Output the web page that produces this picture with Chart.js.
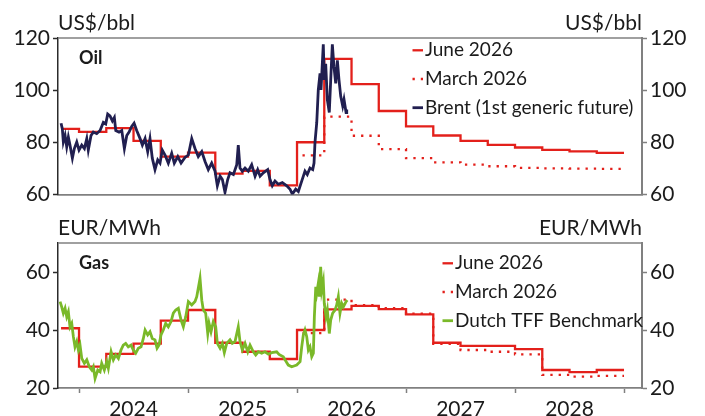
<!DOCTYPE html>
<html>
<head>
<meta charset="utf-8">
<script src="https://cdn.jsdelivr.net/npm/chart.js@4.4.1/dist/chart.umd.min.js"></script>
<style>
  html, body { margin: 0; padding: 0; background: #fff; }
  #wrap { position: relative; width: 705px; height: 416px; overflow: hidden; }
  canvas { position: absolute; left: 0; }
  #oil { top: 0; }
  #gas { top: 205px; }
</style>
</head>
<body>
<div id="wrap">
  <canvas id="oil" width="705" height="210"></canvas>
  <canvas id="gas" width="705" height="211"></canvas>
</div>
<script>
// ---- time frame (decimal years) ----
const xStart = 2023.807;
const xEnd = 2029.165;
const historyStart = 2023.835;
const marchStart = 2026.05;
const forecastEnd = 2029.0;
const years = [2024, 2025, 2026, 2027, 2028];

// ---- forecast quarters ----
const juneQuarters = ['2023Q4',
  '2024Q1', '2024Q2', '2024Q3', '2024Q4',
  '2025Q1', '2025Q2', '2025Q3', '2025Q4',
  '2026Q1', '2026Q2', '2026Q3', '2026Q4',
  '2027Q1', '2027Q2', '2027Q3', '2027Q4',
  '2028Q1', '2028Q2', '2028Q3', '2028Q4'];
const marchQuarters = [
  '2026Q1', '2026Q2', '2026Q3', '2026Q4',
  '2027Q1', '2027Q2', '2027Q3', '2027Q4',
  '2028Q1', '2028Q2', '2028Q3', '2028Q4'];

// ---- oil, US$/bbl ----
const oilTicks = [60, 80, 100, 120];
const oilJune = [85.1, 84.0, 85.4, 80.5, 74.5, 76.0, 68.0, 69.0, 63.5, 80.0, 112.0,
  102.3, 92.0, 86.1, 82.6, 80.5, 79.0, 78.0, 77.1, 76.5, 75.9];
const oilMarch = [75.0, 89.8, 82.5, 77.4, 73.9, 72.3, 71.4, 70.8, 70.2, 70.0, 69.9, 69.8];
const brent = [
  [2023.835, 87.3], [2023.847, 85.1], [2023.856, 80.1], [2023.872, 82.6], [2023.887, 78.3],
  [2023.902, 82.0], [2023.917, 78.9], [2023.939, 73.9], [2023.957, 77.6], [2023.979, 80.1],
  [2024.000, 77.0], [2024.025, 78.9], [2024.049, 77.6], [2024.071, 81.4], [2024.085, 77.0],
  [2024.110, 82.6], [2024.131, 83.9], [2024.162, 83.3], [2024.193, 84.5], [2024.223, 87.6],
  [2024.245, 87.0], [2024.263, 90.8], [2024.284, 90.1], [2024.306, 88.2], [2024.324, 89.5],
  [2024.337, 84.5], [2024.367, 83.9], [2024.392, 84.5], [2024.416, 77.6], [2024.438, 82.6],
  [2024.459, 83.9], [2024.483, 86.1], [2024.505, 87.3], [2024.529, 84.5], [2024.560, 81.4],
  [2024.581, 78.9], [2024.606, 81.4], [2024.630, 76.4], [2024.651, 81.4], [2024.672, 73.9],
  [2024.697, 69.5], [2024.722, 73.2], [2024.743, 72.0], [2024.764, 77.0], [2024.789, 75.1],
  [2024.819, 72.0], [2024.850, 75.8], [2024.874, 72.0], [2024.906, 74.5], [2024.936, 72.0],
  [2024.972, 74.2], [2025.003, 75.1], [2025.034, 81.4], [2025.064, 77.6], [2025.094, 74.5],
  [2025.126, 76.4], [2025.156, 72.6], [2025.186, 69.5], [2025.217, 72.0], [2025.248, 68.9],
  [2025.269, 63.3], [2025.294, 67.0], [2025.315, 65.7], [2025.339, 60.8], [2025.364, 65.7],
  [2025.385, 68.3], [2025.416, 67.6], [2025.447, 71.4], [2025.461, 78.9], [2025.477, 70.1],
  [2025.498, 68.9], [2025.523, 70.1], [2025.553, 68.9], [2025.584, 71.4], [2025.615, 67.0],
  [2025.639, 69.5], [2025.661, 67.0], [2025.691, 68.3], [2025.731, 69.5], [2025.752, 65.7],
  [2025.773, 63.3], [2025.798, 65.1], [2025.828, 63.9], [2025.865, 64.5], [2025.906, 63.3],
  [2025.936, 62.0], [2025.957, 60.1], [2025.988, 62.0], [2026.012, 61.1], [2026.043, 65.1],
  [2026.058, 67.0], [2026.073, 68.9], [2026.094, 67.6], [2026.119, 70.1], [2026.144, 69.5],
  [2026.156, 72.0], [2026.165, 80.1], [2026.181, 87.6], [2026.195, 100.1], [2026.211, 106.4],
  [2026.220, 100.1], [2026.232, 110.1], [2026.241, 117.6], [2026.250, 103.9], [2026.263, 110.1],
  [2026.278, 96.4], [2026.296, 91.4], [2026.309, 103.9], [2026.324, 117.6], [2026.339, 108.9],
  [2026.355, 102.6], [2026.370, 111.4], [2026.385, 103.9], [2026.401, 97.6], [2026.419, 93.9],
  [2026.431, 96.4], [2026.450, 91.4], [2026.456, 92.6]
];

// ---- gas, EUR/MWh ----
const gasTicks = [20, 40, 60];
const gasJune = [40.6, 27.4, 31.8, 35.3, 43.2, 46.9, 35.6, 32.5, 30.0, 40.0, 47.1,
  48.3, 47.2, 45.4, 35.6, 34.5, 34.5, 33.4, 26.2, 25.5, 26.2];
const gasMarch = [38.9, 50.5, 48.6, 47.5, 45.6, 35.2, 33.1, 32.5, 31.6, 24.5, 23.9, 24.2];
const tff = [
  [2023.826, 49.8], [2023.841, 48.0], [2023.856, 45.8], [2023.872, 47.5], [2023.887, 44.6],
  [2023.902, 46.3], [2023.917, 41.1], [2023.933, 42.3], [2023.948, 37.7], [2023.963, 34.2],
  [2023.979, 36.0], [2023.994, 33.1], [2024.009, 34.8], [2024.025, 30.2], [2024.049, 28.5],
  [2024.071, 29.7], [2024.094, 27.3], [2024.117, 26.2], [2024.131, 27.3], [2024.147, 23.3],
  [2024.172, 26.2], [2024.193, 25.6], [2024.208, 28.5], [2024.232, 26.2], [2024.254, 29.1],
  [2024.269, 26.8], [2024.294, 32.5], [2024.315, 29.7], [2024.337, 31.4], [2024.361, 30.2],
  [2024.385, 33.1], [2024.406, 34.8], [2024.428, 35.4], [2024.452, 34.2], [2024.477, 34.8],
  [2024.498, 33.1], [2024.520, 32.0], [2024.544, 33.7], [2024.569, 34.2], [2024.590, 37.1],
  [2024.606, 40.0], [2024.630, 38.3], [2024.651, 39.4], [2024.672, 37.1], [2024.697, 36.6],
  [2024.716, 33.7], [2024.734, 34.8], [2024.752, 38.3], [2024.773, 40.0], [2024.795, 42.3],
  [2024.819, 41.1], [2024.844, 42.9], [2024.865, 45.8], [2024.887, 46.9], [2024.911, 47.5],
  [2024.936, 43.4], [2024.957, 41.1], [2024.979, 44.6], [2025.003, 49.8], [2025.034, 48.6],
  [2025.064, 49.8], [2025.080, 51.5], [2025.110, 57.8], [2025.126, 50.3], [2025.140, 46.9],
  [2025.162, 45.8], [2025.181, 38.8], [2025.193, 42.3], [2025.211, 39.4], [2025.232, 42.9],
  [2025.254, 41.1], [2025.269, 35.4], [2025.294, 33.7], [2025.315, 35.4], [2025.333, 32.2],
  [2025.355, 35.4], [2025.385, 36.6], [2025.406, 35.4], [2025.431, 36.0], [2025.461, 41.1],
  [2025.477, 36.0], [2025.498, 33.1], [2025.523, 35.4], [2025.548, 32.5], [2025.569, 34.8],
  [2025.599, 32.5], [2025.621, 31.4], [2025.645, 32.5], [2025.676, 32.0], [2025.706, 32.5],
  [2025.737, 31.7], [2025.768, 32.2], [2025.813, 32.5], [2025.835, 31.6], [2025.874, 30.8],
  [2025.890, 29.7], [2025.920, 27.9], [2025.951, 27.3], [2025.972, 27.6], [2025.997, 27.9],
  [2026.028, 29.1], [2026.043, 34.2], [2026.058, 38.3], [2026.073, 40.0], [2026.089, 37.7],
  [2026.104, 33.1], [2026.119, 34.2], [2026.135, 30.8], [2026.150, 32.0], [2026.159, 44.6],
  [2026.172, 54.9], [2026.181, 52.7], [2026.195, 56.1], [2026.204, 51.5], [2026.217, 61.8],
  [2026.227, 53.8], [2026.241, 56.7], [2026.250, 49.2], [2026.266, 44.6], [2026.278, 46.9],
  [2026.296, 38.8], [2026.309, 43.4], [2026.327, 45.8], [2026.349, 46.9], [2026.364, 48.6],
  [2026.379, 51.5], [2026.394, 45.8], [2026.410, 49.2], [2026.425, 48.0], [2026.450, 49.8],
  [2026.461, 50.3]
];

// ---- styling ----
const FONT = 'Lato';
const INK = '#1b1b1b';
const RED = '#e3201b';
const NAVY = '#211f50';
const GREEN = '#7ab929';
const AXIS_GREY = '#808080';
const AXIS_DARK = '#2b2b2b';

Chart.defaults.font.family = FONT;
Chart.defaults.color = INK;

function quarterStart(q) {
  const [y, n] = q.split('Q').map(Number);
  return y + (n - 1) / 4;
}

// Quarterly step path: each value holds until the next quarter begins
function stepSeries(quarters, values, firstX) {
  const pts = quarters.map((q, i) => ({ x: Math.max(quarterStart(q), firstX), y: values[i] }));
  pts.push({ x: forecastEnd, y: values[values.length - 1] });
  return pts;
}

// Year boundaries get tick marks, mid-years carry the labels
const yearMarks = [];
years.forEach(y => { yearMarks.push({ value: y }, { value: y + 0.5 }); });
yearMarks.push({ value: years[years.length - 1] + 1 });

// Frame top edge, unit captions, panel name and the in-plot legend
const panelDecor = {
  id: 'panelDecor',
  afterDraw(chart, args, opts) {
    const { ctx, chartArea: a } = chart;
    ctx.save();
    ctx.strokeStyle = AXIS_GREY;
    ctx.lineWidth = 1.5;
    ctx.beginPath();
    ctx.moveTo(a.left, a.top);
    ctx.lineTo(a.right, a.top);
    ctx.stroke();

    ctx.fillStyle = INK;
    ctx.textBaseline = 'alphabetic';
    ctx.font = `21px ${FONT}`;
    ctx.textAlign = 'left';
    ctx.fillText(opts.unit, a.left, a.top - 8.5);
    ctx.textAlign = 'right';
    ctx.fillText(opts.unit, a.right, a.top - 8.5);

    ctx.textAlign = 'left';
    ctx.font = `bold 18px ${FONT}`;
    ctx.fillText(opts.name, a.left + 21, a.top + 25.5);

    ctx.font = `19px ${FONT}`;
    opts.legendOrder.forEach((idx, row) => {
      const ds = chart.data.datasets[idx];
      const y = a.top + opts.legendTop + row * 28.7;
      ctx.strokeStyle = ds.borderColor;
      ctx.lineWidth = ds.borderWidth;
      ctx.setLineDash(ds.borderDash || []);
      ctx.beginPath();
      ctx.moveTo(opts.legendX - 12.5, y - 6);
      ctx.lineTo(opts.legendX - 2, y - 6);
      ctx.stroke();
      ctx.setLineDash([]);
      ctx.fillText(ds.label, opts.legendX, y);
    });
    ctx.restore();
  }
};

function yAxis(position, ticks, min, max, width, borderColor, borderWidth) {
  return {
    type: 'linear', position, min, max,
    afterBuildTicks: s => { s.ticks = ticks.map(v => ({ value: v })); },
    afterFit: s => { s.width = width; },
    ticks: { padding: 3, font: { size: 21 }, color: INK },
    grid: { drawOnChartArea: false, tickLength: 5, tickColor: borderColor, tickWidth: 1.5 },
    border: { color: borderColor, width: borderWidth }
  };
}

function buildPanel(id, cfg) {
  const datasets = [
    {
      label: cfg.spotLabel,
      data: cfg.spot.map(([x, y]) => ({ x, y })),
      borderColor: cfg.spotColor, borderWidth: 2.8
    },
    {
      label: 'June 2026',
      data: stepSeries(juneQuarters, cfg.june, historyStart),
      borderColor: RED, borderWidth: 2.3, stepped: 'before'
    },
    {
      label: 'March 2026',
      data: stepSeries(marchQuarters, cfg.march, marchStart),
      borderColor: RED, borderWidth: 2.3, borderDash: [2.3, 6], stepped: 'before'
    }
  ];

  return new Chart(document.getElementById(id), {
    type: 'line',
    data: { datasets },
    plugins: [panelDecor],
    options: {
      responsive: false,
      animation: false,
      events: [],
      layout: { padding: { top: 38, left: 0, right: 0, bottom: 0 } },
      elements: { point: { radius: 0 }, line: { tension: 0, fill: false } },
      plugins: {
        legend: { display: false },
        tooltip: { enabled: false },
        panelDecor: {
          unit: cfg.unit, name: cfg.name,
          legendOrder: [1, 2, 0], legendX: cfg.legendX, legendTop: cfg.legendTop
        }
      },
      scales: {
        x: {
          type: 'linear', min: xStart, max: xEnd,
          afterBuildTicks: s => { if (cfg.showYears) s.ticks = yearMarks.map(t => ({ value: t.value })); },
          afterFit: s => { s.height = cfg.xHeight; },
          ticks: {
            display: cfg.showYears, autoSkip: false, maxRotation: 0, padding: 4,
            font: { size: 21 }, color: INK,
            callback: v => Number.isInteger(v) ? '' : String(Math.floor(v))
          },
          grid: {
            display: cfg.showYears, drawOnChartArea: false, tickLength: 5, tickWidth: 1.5,
            tickColor: c => (c.tick && Number.isInteger(c.tick.value)) ? AXIS_GREY : 'rgba(0,0,0,0)'
          },
          border: { color: AXIS_GREY, width: 1.8 }
        },
        y: yAxis('left', cfg.ticks, cfg.min, cfg.max, 58, AXIS_DARK, 1.5),
        y2: yAxis('right', cfg.ticks, cfg.min, cfg.max, 63, AXIS_GREY, 2)
      }
    }
  });
}

buildPanel('oil', {
  unit: 'US$/bbl', name: 'Oil',
  spot: brent, spotLabel: 'Brent (1st generic future)', spotColor: NAVY,
  june: oilJune, march: oilMarch,
  ticks: oilTicks, min: 60, max: 120,
  legendX: 425, legendTop: 18.3,
  showYears: false, xHeight: 13
});

buildPanel('gas', {
  unit: 'EUR/MWh', name: 'Gas',
  spot: tff, spotLabel: 'Dutch TFF Benchmark', spotColor: GREEN,
  june: gasJune, march: gasMarch,
  ticks: gasTicks, min: 20, max: 70,
  legendX: 455, legendTop: 26.3,
  showYears: true, xHeight: 28
});
</script>
</body>
</html>
